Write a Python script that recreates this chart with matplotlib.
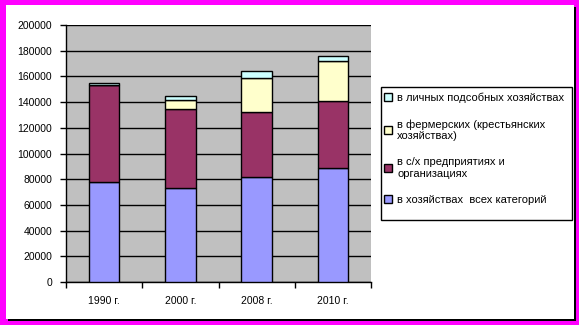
import matplotlib.pyplot as plt
import matplotlib.patches as patches
import numpy as np

plt.rcParams['font.family'] = ['Liberation Sans', 'DejaVu Sans']

# Years and stacked series (bottom to top)
years = ['1990 г.', '2000 г.', '2008 г.', '2010 г.']
all_cat = [77500, 73000, 82000, 88500]
agri_org = [75500, 62000, 50000, 52500]
farms = [0, 7000, 27000, 31000]
private = [1500, 3000, 5000, 4000]

labels = ['в хозяйствах  всех категорий',
          'в с/х предприятиях и\nорганизациях',
          'в фермерских (крестьянских\nхозяйствах)',
          'в личных подсобных хозяйствах']
colors = ['#9999ff', '#993366', '#ffffcc', '#ccffff']

W, H = 579, 325
fig = plt.figure(figsize=(W / 100, H / 100), dpi=100)
fig.patch.set_facecolor('#ff00ff')


def px_rect(x0, y0, x1, y1, **kw):
    # rectangle given in pixels from the top-left corner
    r = patches.Rectangle((x0 / W, (H - y1) / H), (x1 - x0) / W, (y1 - y0) / H,
                          transform=fig.transFigure, **kw)
    fig.add_artist(r)
    return r


# white sheet with a black drop shadow
px_rect(8, 7, 576, 321, facecolor='black', edgecolor='none', zorder=0)
px_rect(6, 5, 574, 319, facecolor='white', edgecolor='none', zorder=0)

ax = fig.add_axes([66 / W, (H - 282) / H, 305 / W, 257 / H])
ax.set_facecolor('#c0c0c0')
ax.set_zorder(1)

x = np.arange(len(years))
series = [all_cat, agri_org, farms, private]
bottom = np.zeros(len(years))
handles = []
for vals, col, lab in zip(series, colors, labels):
    b = ax.bar(x, vals, 0.4, bottom=bottom, color=col, edgecolor='black',
               linewidth=1, label=lab, zorder=3)
    handles.append(b)
    bottom += np.array(vals)

ax.set_ylim(0, 200000)
ax.set_xlim(-0.5, len(years) - 0.5)
ax.set_yticks(np.arange(0, 200001, 20000))
ax.yaxis.grid(True, color='black', linewidth=1)
ax.set_axisbelow(True)

ax.set_xticks(np.arange(-0.5, len(years), 1.0))
ax.set_xticklabels([])
ax.set_xticks(x, minor=True)
ax.set_xticklabels(years, minor=True)
ax.tick_params(axis='x', which='minor', length=0, pad=10, labelsize=7.5)
ax.tick_params(axis='x', which='major', length=4, width=1, color='black')
ax.tick_params(axis='y', length=4, width=1, pad=6, labelsize=7.5)

for s in ['top', 'right']:
    ax.spines[s].set_visible(False)
for s in ['left', 'bottom']:
    ax.spines[s].set_color('black')
    ax.spines[s].set_linewidth(1)

# legend box
px_rect(381, 87, 572, 220, facecolor='white', edgecolor='black',
        linewidth=1, zorder=2)
leg = fig.legend(handles[::-1], labels[::-1],
                 loc='upper left', bbox_to_anchor=(384 / W, (H - 92.5) / H),
                 fontsize=8, frameon=False, handlelength=0.7,
                 handleheight=0.7, handletextpad=0.5, labelspacing=1.45,
                 borderpad=0, borderaxespad=0)
leg.set_zorder(3)

fig.savefig('out.png', dpi=100, facecolor=fig.get_facecolor())
